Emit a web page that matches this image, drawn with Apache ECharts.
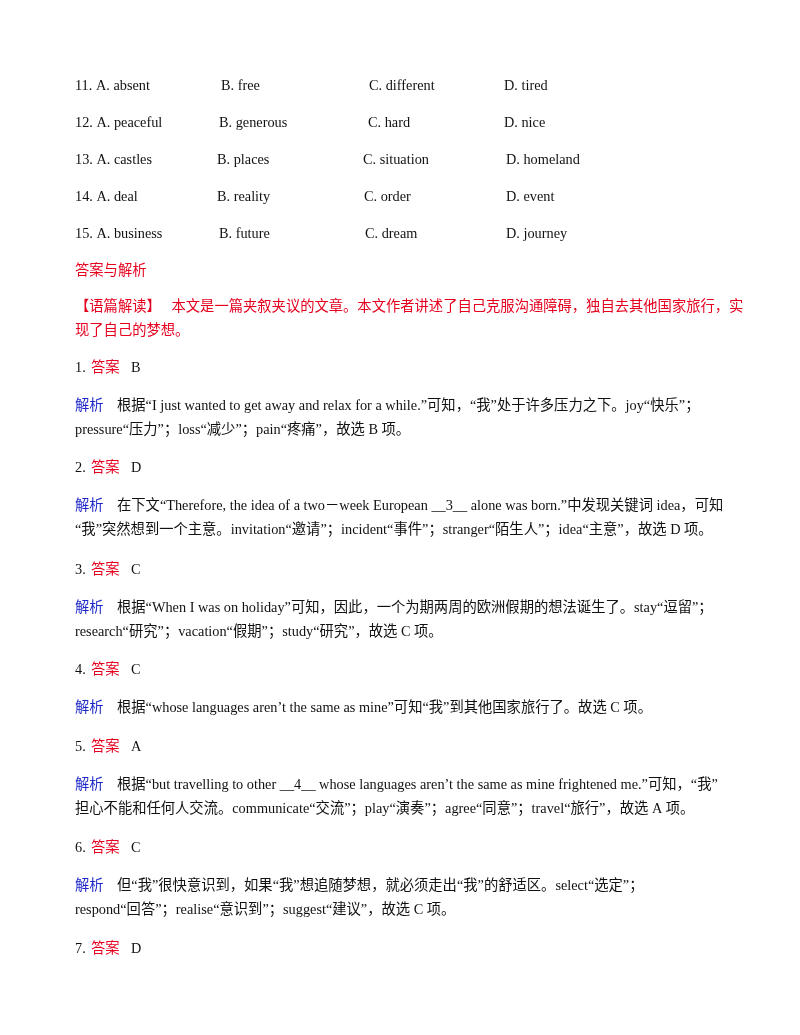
<!DOCTYPE html>
<html><head><meta charset="utf-8">
<script src="https://cdn.jsdelivr.net/npm/echarts@6/dist/echarts.min.js"></script>
<style>html,body{margin:0;padding:0;background:#fff}#c{width:800px;height:1035px}</style>
</head><body><div id="c"></div>
<script>
const optionNums = ["11.","12.","13.","14.","15."];
const colA = ["A. absent","A. peaceful","A. castles","A. deal","A. business"];
const colB = ["B. free","B. generous","B. places","B. reality","B. future"];
const colC = ["C. different","C. hard","C. situation","C. order","C. dream"];
const colD = ["D. tired","D. nice","D. homeland","D. event","D. journey"];
const answers = ["B","D","C","C","A","C","D"];
const explanations = [
 ["根据“I just wanted to get away and relax for a while.”可知，“我”处于许多压力之下。joy“快乐”；","pressure“压力”；loss“减少”；pain“疼痛”，故选 B 项。"],
 ["在下文“Therefore, the idea of a two－week European __3__ alone was born.”中发现关键词 idea，可知","“我”突然想到一个主意。invitation“邀请”；incident“事件”；stranger“陌生人”；idea“主意”，故选 D 项。"],
 ["根据“When I was on holiday”可知，因此，一个为期两周的欧洲假期的想法诞生了。stay“逗留”；","research“研究”；vacation“假期”；study“研究”，故选 C 项。"],
 ["根据“whose languages aren’t the same as mine”可知“我”到其他国家旅行了。故选 C 项。"],
 ["根据“but travelling to other __4__ whose languages aren’t the same as mine frightened me.”可知，“我”","担心不能和任何人交流。communicate“交流”；play“演奏”；agree“同意”；travel“旅行”，故选 A 项。"],
 ["但“我”很快意识到，如果“我”想追随梦想，就必须走出“我”的舒适区。select“选定”；","respond“回答”；realise“意识到”；suggest“建议”，故选 C 项。"],
 []
];
const intro = ["【语篇解读】   本文是一篇夹叙夹议的文章。本文作者讲述了自己克服沟通障碍，独自去其他国家旅行，实","现了自己的梦想。"];
const heading = "答案与解析";

const FONT = '"Liberation Serif","Noto Sans CJK SC",serif';
const RED = '#e6001e', BLUE = '#1e28c8', BLK = '#111';
const els = [];
function txt(x,y,s,color){ els.push({type:'text',left:x,top:y-6,style:{text:s,font:'14.3px '+FONT,fill:color||BLK}}); }
const colX = [[75,221,369,504],[75,219,368,504],[75,217,363,506],[75,217,364,506],[75,219,365,506]];
for(let i=0;i<5;i++){
  const y=85+i*37;
  txt(colX[i][0],y,optionNums[i]+" "+colA[i]);
  txt(colX[i][1],y,colB[i]); txt(colX[i][2],y,colC[i]); txt(colX[i][3],y,colD[i]);
}
txt(75,270,heading,RED);
txt(75,306,intro[0],RED); txt(75,330,intro[1],RED);
const ansY=[367,467,569,669,746,847,948];
answers.forEach((a,i)=>{
  const y=ansY[i];
  txt(75,y,(i+1)+".",BLK); txt(91,y,"答案",RED); txt(131,y,a,BLK);
  const ex=explanations[i];
  if(ex.length){
    const ey=y+38;
    txt(75,ey,"解析",BLUE); txt(117,ey,ex[0],BLK);
    if(ex[1]) txt(75,ey+24,ex[1],BLK);
  }
});
const chart=echarts.init(document.getElementById('c'));
chart.setOption({backgroundColor:'#fff',graphic:els});
</script></body></html>
